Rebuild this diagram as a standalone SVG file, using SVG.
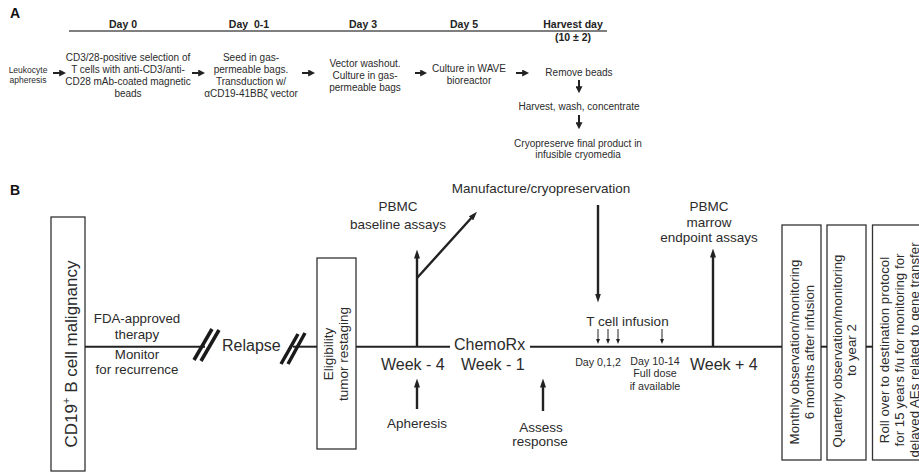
<svg xmlns="http://www.w3.org/2000/svg" width="919" height="473" viewBox="0 0 919 473">
<style>
text{font-family:"Liberation Sans",Arial,sans-serif;fill:#2b2b2b}
.lab{font-weight:bold;font-size:14px;fill:#111}
.day{font-weight:bold;font-size:10.5px;fill:#222}
.a{font-size:10px;text-anchor:middle}
.s{font-size:8.5px;text-anchor:middle}
.m{font-size:13.5px;text-anchor:middle}
.l{font-size:16px}
.d{font-size:10.7px;text-anchor:middle}
.r{font-size:13.3px;text-anchor:middle}
.box{fill:none;stroke:#333;stroke-width:1.3}
.ln{stroke:#222;stroke-width:2;fill:none}
.ar{stroke:#222;stroke-width:2.4;fill:none}
.aA{stroke:#222;stroke-width:2;fill:none;marker-end:url(#mA)}
.aB{stroke:#222;stroke-width:2.4;fill:none;marker-end:url(#mB)}
.aC{stroke:#222;stroke-width:1;fill:none;marker-end:url(#mC)}
.hash{stroke:#1a1a1a;stroke-width:3.5;fill:none}
</style>
<defs>
<marker id="mA" viewBox="0 0 10 10" refX="4" refY="5" markerWidth="7" markerHeight="7" markerUnits="userSpaceOnUse" orient="auto"><path d="M0,0 L10,5 L0,10 z" fill="#222"/></marker>
<marker id="mB" viewBox="0 0 12 8" refX="6" refY="4" markerWidth="9" markerHeight="6" markerUnits="userSpaceOnUse" orient="auto"><path d="M0,0 L12,4 L0,8 z" fill="#222"/></marker>
<marker id="mC" viewBox="0 0 10 8" refX="6" refY="4" markerWidth="5" markerHeight="4" markerUnits="userSpaceOnUse" orient="auto"><path d="M0,0 L10,4 L0,8 z" fill="#222"/></marker>
</defs>

<!-- Panel A -->
<text class="lab" x="10" y="18">A</text>
<g id="timelineA">
<line x1="69" y1="31" x2="607" y2="31" stroke="#555" stroke-width="1.5"/>
<text class="day" x="123" y="28" text-anchor="middle">Day 0</text>
<text class="day" x="249" y="28" text-anchor="middle" xml:space="preserve">Day  0-1</text>
<text class="day" x="363" y="28" text-anchor="middle">Day 3</text>
<text class="day" x="464" y="28" text-anchor="middle">Day 5</text>
<text class="day" x="573" y="28" text-anchor="middle">Harvest day</text>
<text class="day" x="573" y="41" text-anchor="middle">(10 ± 2)</text>
</g>
<g id="a-leuk"><text class="s" x="28" y="72.5">Leukocyte</text><text class="s" x="28" y="83">apheresis</text></g>
<g id="a-select">
<text class="a" x="128" y="60.5">CD3/28-positive selection of</text>
<text class="a" x="128" y="72.5">T cells with anti-CD3/anti-</text>
<text class="a" x="128" y="84.5">CD28 mAb-coated magnetic</text>
<text class="a" x="128" y="96.5">beads</text>
</g>
<g id="a-seed">
<text class="a" x="251" y="60.5">Seed in gas-</text>
<text class="a" x="251" y="72.5">permeable bags.</text>
<text class="a" x="251" y="84.5">Transduction w/</text>
<text class="a" x="251" y="96.5">αCD19-41BBζ vector</text>
</g>
<g id="a-wash">
<text class="a" x="365" y="66.5">Vector washout.</text>
<text class="a" x="365" y="78.5">Culture in gas-</text>
<text class="a" x="365" y="90.5">permeable bags</text>
</g>
<g id="a-wave">
<text class="a" x="469" y="71.5">Culture in WAVE</text>
<text class="a" x="469" y="83.5">bioreactor</text>
</g>
<g id="a-remove"><text class="a" x="579" y="76">Remove beads</text></g>
<g id="a-harvest"><text class="a" x="579" y="110">Harvest, wash, concentrate</text></g>
<g id="a-cryo">
<text class="a" x="578" y="146.5">Cryopreserve final product in</text>
<text class="a" x="578" y="158">infusible cryomedia</text>
</g>
<g id="connectorsA">
<line class="aA" x1="53" y1="73" x2="62" y2="73"/>
<line class="aA" x1="192" y1="73" x2="201" y2="73"/>
<line class="aA" x1="302" y1="73" x2="311" y2="73"/>
<line class="aA" x1="415" y1="73" x2="423" y2="73"/>
<line class="aA" x1="516" y1="73" x2="525" y2="73"/>
<line class="aA" x1="579" y1="80" x2="579" y2="89"/>
<line class="aA" x1="579" y1="115" x2="579" y2="125"/>
</g>

<!-- Panel B -->
<text class="lab" x="10" y="195">B</text>
<g id="b-cd19">
<rect class="box" x="51" y="217" width="34" height="254"/>
<text transform="translate(77,354) rotate(-90)" font-size="17" text-anchor="middle">CD19<tspan font-size="11" dy="-7">+</tspan><tspan dy="7"> B cell malignancy</tspan></text>
</g>
<g id="b-fda">
<text class="r" x="137" y="323">FDA-approved</text>
<text class="r" x="137" y="338.5">therapy</text>
<text class="r" x="137" y="359">Monitor</text>
<text class="r" x="137" y="374">for recurrence</text>
</g>
<g id="b-relapse"><text class="l" x="222" y="351">Relapse</text></g>
<g id="b-elig">
<rect class="box" x="317" y="258" width="39" height="191"/>
<text class="m" transform="translate(332.5,354) rotate(-90)">Eligibility</text>
<text class="m" transform="translate(348,354) rotate(-90)">tumor restaging</text>
</g>
<g id="b-pbmc1">
<text class="m" x="398" y="210.5">PBMC</text>
<text class="m" x="398" y="228.5">baseline assays</text>
</g>
<g id="b-manuf"><text class="m" x="541" y="193">Manufacture/cryopreservation</text></g>
<g id="b-week4"><text class="l" x="381" y="370">Week - 4</text></g>
<g id="b-chemo"><text class="l" x="454" y="350">ChemoRx</text></g>
<g id="b-week1"><text class="l" x="461" y="370">Week - 1</text></g>
<g id="b-apher"><text class="m" x="417" y="428">Apheresis</text></g>
<g id="b-assess">
<text class="m" x="541" y="431.5">Assess</text>
<text class="m" x="540" y="445.5">response</text>
</g>
<g id="b-tcell"><text class="m" x="627.5" y="326">T cell infusion</text></g>
<g id="b-day012"><text class="d" x="598" y="365.5">Day 0,1,2</text></g>
<g id="b-day1014">
<text class="d" x="655" y="364.5">Day 10-14</text>
<text class="d" x="655" y="377">Full dose</text>
<text class="d" x="655" y="390">if available</text>
</g>
<g id="b-pbmc2">
<text class="m" x="709" y="210.5">PBMC</text>
<text class="m" x="709" y="226.5">marrow</text>
<text class="m" x="709" y="241.5">endpoint assays</text>
</g>
<g id="b-weekp4"><text class="l" x="690" y="370">Week + 4</text></g>
<g id="b-monthly">
<rect class="box" x="782" y="225" width="39" height="235"/>
<text class="r" transform="translate(799,352) rotate(-90)">Monthly observation/monitoring</text>
<text class="r" transform="translate(814,352) rotate(-90)">6 months after infusion</text>
</g>
<g id="b-quarterly">
<rect class="box" x="827" y="225" width="39" height="235"/>
<text class="r" transform="translate(842,351) rotate(-90)">Quarterly observation/monitoring</text>
<text class="r" transform="translate(856,350) rotate(-90)">to year 2</text>
</g>
<g id="b-roll">
<rect class="box" x="872.5" y="225" width="60" height="235"/>
<text class="r" transform="translate(888.5,350) rotate(-90)">Roll over to destination protocol</text>
<text class="r" transform="translate(903.5,350) rotate(-90)">for 15 years f/u for monitoring for</text>
<text class="r" transform="translate(918.5,350) rotate(-90)">delayed AEs related to gene transfer</text>
</g>

<g id="connectorsB">
<line class="ln" x1="85" y1="346.7" x2="205" y2="346.7"/>
<line class="ln" x1="293" y1="346.7" x2="317" y2="346.7"/>
<line class="ln" x1="356" y1="346.7" x2="450" y2="346.7"/>
<line class="ln" x1="530" y1="346.7" x2="782" y2="346.7"/>
<line class="ln" x1="821" y1="346.7" x2="827" y2="346.7"/>
<line class="ln" x1="866" y1="346.7" x2="872.5" y2="346.7"/>
<line class="hash" x1="194" y1="360" x2="212" y2="329"/>
<line class="hash" x1="201" y1="361" x2="219" y2="330"/>
<line class="hash" x1="281" y1="364" x2="298" y2="334"/>
<line class="hash" x1="288" y1="364" x2="305" y2="333"/>
<line class="aB" x1="417" y1="346.7" x2="417" y2="254"/>
<line class="aB" x1="417" y1="278" x2="474" y2="215"/>
<line class="aB" x1="417" y1="409" x2="417" y2="383"/>
<line class="aB" x1="543" y1="411" x2="543" y2="383"/>
<line class="aB" x1="598" y1="205" x2="598" y2="298"/>
<line class="aB" x1="713" y1="346.7" x2="713" y2="253"/>
<line class="aC" x1="598" y1="329" x2="598" y2="342"/>
<line class="aC" x1="608" y1="329" x2="608" y2="342"/>
<line class="aC" x1="618" y1="329" x2="618" y2="342"/>
<line class="aC" x1="662" y1="329" x2="662" y2="342"/>
</g>
</svg>
